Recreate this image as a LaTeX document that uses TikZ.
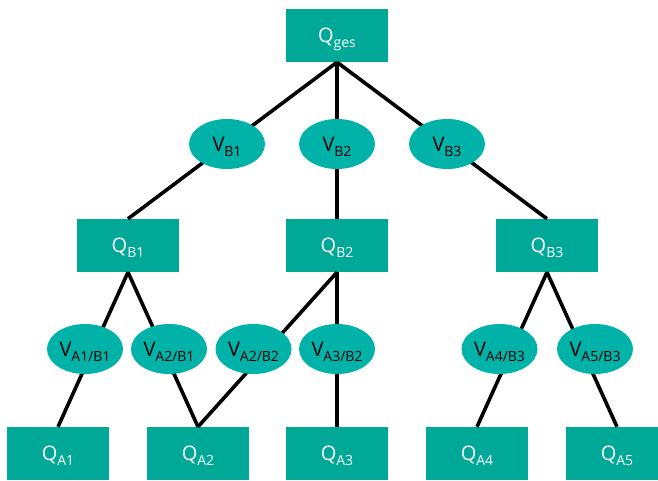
\documentclass[tikz,border=0pt]{standalone}
\usepackage{fontspec}
\setmainfont{Open Sans}
\usetikzlibrary{shapes.geometric}
\definecolor{boxteal}{HTML}{00A898}
\definecolor{elteal}{HTML}{00B2A7}
\newcommand\lowsub[1]{\raisebox{-5pt}[0pt][0pt]{\fontsize{14pt}{14pt}\selectfont #1}}
\tikzset{
  qbox/.style={fill=boxteal, draw=none, minimum width=102pt, minimum height=53pt, inner sep=0pt, text height=14pt, text depth=0pt, text=white, font=\fontsize{20pt}{22pt}\selectfont},
  vell/.style={ellipse, fill=elteal, draw=none, minimum width=76pt, minimum height=50pt, inner sep=0pt, text height=14pt, text depth=0pt, text=black, font=\fontsize{20pt}{22pt}\selectfont},
  link/.style={line width=3.6pt, black}
}
\begin{document}
\begin{tikzpicture}[x=1pt,y=-1pt]
\clip (0,0) rectangle (658,480);
\fill[white] (0,0) rectangle (658,480);
% boxes
\node[qbox] (qges) at (337,35.5) {Q\lowsub{ges}};
\node[qbox] (qb1) at (128,245.5) {Q\lowsub{B1}};
\node[qbox] (qb2) at (337,245.5) {Q\lowsub{B2}};
\node[qbox] (qb3) at (547,245.5) {Q\lowsub{B3}};
\node[qbox] (qa1) at (58,453.5) {Q\lowsub{A1}};
\node[qbox] (qa2) at (198,453.5) {Q\lowsub{A2}};
\node[qbox] (qa3) at (337,453.5) {Q\lowsub{A3}};
\node[qbox] (qa4) at (477,453.5) {Q\lowsub{A4}};
\node[qbox] (qa5) at (617,453.5) {Q\lowsub{A5}};
% connectors
\draw[link] (qges.south) -- (qb1.north);
\draw[link] (qges.south) -- (qb2.north);
\draw[link] (qges.south) -- (qb3.north);
\draw[link] (qb1.south) -- (qa1.north);
\draw[link] (qb1.south) -- (qa2.north);
\draw[link] (qb2.south) -- (qa2.north);
\draw[link] (qb2.south) -- (qa3.north);
\draw[link] (qb3.south) -- (qa4.north);
\draw[link] (qb3.south) -- (qa5.north);
% ellipses
\node[vell] (vb1) at (227,144) {V\lowsub{B1}};
\node[vell] (vb2) at (337,144) {V\lowsub{B2}};
\node[vell] (vb3) at (447,144) {V\lowsub{B3}};
\node[vell] (va1b1) at (85,349) {V\lowsub{A1/B1}};
\node[vell] (va2b1) at (169,349) {V\lowsub{A2/B1}};
\node[vell] (va2b2) at (253.5,349) {V\lowsub{A2/B2}};
\node[vell] (va3b2) at (337,349) {V\lowsub{A3/B2}};
\node[vell] (va4b3) at (499.5,349) {V\lowsub{A4/B3}};
\node[vell] (va5b3) at (595,349) {V\lowsub{A5/B3}};
\end{tikzpicture}
\end{document}
